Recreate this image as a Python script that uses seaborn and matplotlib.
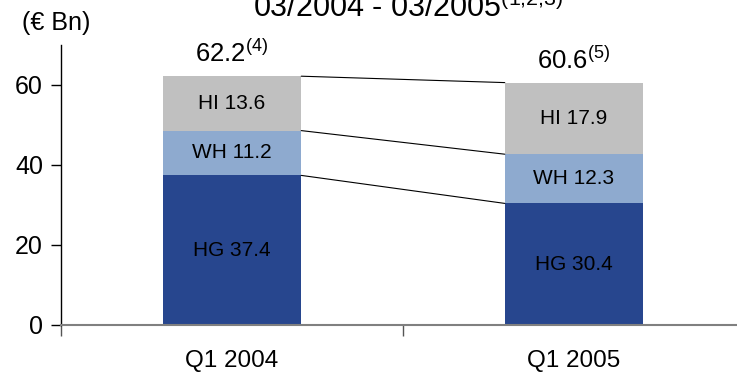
import matplotlib
matplotlib.use("Agg")
import matplotlib.pyplot as plt
import seaborn as sns
import pandas as pd
import numpy as np

# Data (EUR bn)
quarters = ["Q1 2004", "Q1 2005"]
hg = [37.4, 30.4]
wh = [11.2, 12.3]
hi = [13.6, 17.9]
totals = [62.2, 60.6]
total_notes = ["(4)", "(5)"]
y_ticks = [0, 20, 40, 60]

sns.set_theme(style="white")
plt.rcParams["font.family"] = ["Liberation Sans", "DejaVu Sans"]
plt.rcParams["mathtext.default"] = "regular"
plt.rcParams["text.color"] = "black"
plt.rcParams["xtick.color"] = "black"
plt.rcParams["ytick.color"] = "black"
plt.rcParams["xtick.labelcolor"] = "black"
plt.rcParams["ytick.labelcolor"] = "black"

c_hg = "#27468E"
c_wh = "#8EAACF"
c_hi = "#C0C0C0"

df = pd.DataFrame({"quarter": quarters, "HG": hg, "WH": wh, "HI": hi})
df["HG_WH"] = df["HG"] + df["WH"]
df["ALL"] = df["HG_WH"] + df["HI"]

fig = plt.figure(figsize=(7.37, 3.75), dpi=100)
ax = fig.add_axes([61 / 737, 1 - 325 / 375, 684 / 737, 280 / 375])

bar_w = 0.405
# stacked bars: draw cumulative heights from tallest to shortest
sns.barplot(data=df, x="quarter", y="ALL", color=c_hi, width=bar_w,
            saturation=1, ax=ax, linewidth=0)
sns.barplot(data=df, x="quarter", y="HG_WH", color=c_wh, width=bar_w,
            saturation=1, ax=ax, linewidth=0)
sns.barplot(data=df, x="quarter", y="HG", color=c_hg, width=bar_w,
            saturation=1, ax=ax, linewidth=0)

# connector lines between segment boundaries
for col in ["HG", "HG_WH", "ALL"]:
    ax.plot([0 + bar_w / 2, 1 - bar_w / 2], [df[col][0], df[col][1]],
            color="black", lw=0.8, zorder=3)

# segment labels
for i in range(len(quarters)):
    ax.text(i, hg[i] / 2, f"HG {hg[i]}", ha="center", va="center",
            fontsize=15, color="black")
    ax.text(i, hg[i] + wh[i] / 2, f"WH {wh[i]}", ha="center", va="center",
            fontsize=15, color="black")
    ax.text(i, hg[i] + wh[i] + hi[i] / 2, f"HI {hi[i]}", ha="center",
            va="center", fontsize=15, color="black")
    ax.annotate(f"{totals[i]}$^{{{total_notes[i]}}}$", xy=(i, df["ALL"][i]),
                xytext=(0, 10), textcoords="offset points", ha="center",
                va="baseline", fontsize=18.5, color="black")

ax.set_xlim(-0.5, 1.5)
ax.set_ylim(0, 70)
ax.set_yticks(y_ticks)
ax.set_yticklabels([str(t) for t in y_ticks], fontsize=18)
ax.set_xlabel("")
ax.set_ylabel("")

# category labels centred, tick marks on category boundaries
ax.set_xticks([0, 1])
ax.set_xticklabels(quarters, fontsize=17.5)
ax.tick_params(axis="x", which="major", length=0, pad=18)
ax.set_xticks([-0.5, 0.5, 1.5], minor=True)
ax.tick_params(axis="x", which="minor", direction="out", length=8,
               width=1, color="#555555", bottom=True)
ax.tick_params(axis="y", direction="out", length=7, width=1,
               color="black", left=True, pad=6)

for s in ["top", "right"]:
    ax.spines[s].set_visible(False)
ax.spines["left"].set_color("black")
ax.spines["left"].set_linewidth(1)
ax.spines["bottom"].set_color("#808080")
ax.spines["bottom"].set_linewidth(1.5)
ax.spines["bottom"].set_zorder(4)

fig.text(22 / 737, 1 - 23 / 375, "(€ Bn)", ha="left", va="center",
         fontsize=18, color="black")
fig.text(408 / 737, 1 - 17 / 375, "03/2004 - 03/2005$^{(1{,}2{,}3)}$",
         ha="center", va="baseline", fontsize=22, color="black")

fig.savefig("out.png", dpi=100)
